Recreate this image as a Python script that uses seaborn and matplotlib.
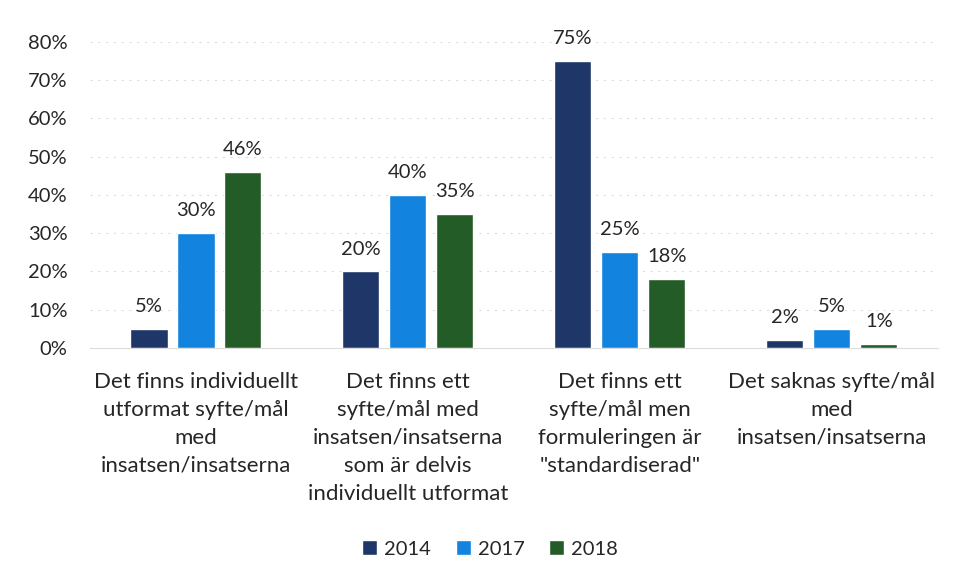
import pandas as pd
import matplotlib
matplotlib.use("Agg")
import matplotlib.pyplot as plt
import seaborn as sns
from matplotlib.ticker import PercentFormatter

categories = [
    "Det finns individuellt\nutformat syfte/mål\nmed\ninsatsen/insatserna",
    "Det finns ett\nsyfte/mål med\ninsatsen/insatserna\nsom är delvis\nindividuellt utformat",
    "Det finns ett\nsyfte/mål men\nformuleringen är\n\"standardiserad\"",
    "Det saknas syfte/mål\nmed\ninsatsen/insatserna",
]
years = ["2014", "2017", "2018"]
values_2014 = [5, 20, 75, 2]
values_2017 = [30, 40, 25, 5]
values_2018 = [46, 35, 18, 1]
colors = {"2014": "#1f3768", "2017": "#1283de", "2018": "#235c26"}

rows = []
for year, vals in zip(years, [values_2014, values_2017, values_2018]):
    for cat, v in zip(categories, vals):
        rows.append({"kategori": cat, "år": year, "andel": v})
df = pd.DataFrame(rows)

sns.set_style("white")
plt.rcParams["font.family"] = ["Lato", "DejaVu Sans"]
plt.rcParams["text.color"] = "#262626"

fig = plt.figure(figsize=(9.57, 5.81), dpi=100)
ax = fig.add_axes([0.094, 0.401, 0.886, 0.527])

sns.barplot(data=df, x="kategori", y="andel", hue="år", palette=colors,
            width=0.665, gap=0.21, ax=ax, legend=True, saturation=1)

for c in ax.containers:
    ax.bar_label(c, labels=[f"{v:.0f}%" for v in c.datavalues],
                 padding=10, fontsize=14.5, color="#262626")

ax.set_ylim(0, 80)
ax.set_yticks(range(0, 81, 10))
ax.yaxis.set_major_formatter(PercentFormatter(decimals=0))
ax.set_xlim(-0.5, 3.5)
ax.grid(axis="y", color="#dcdcdc", linestyle=(0, (2, 5)), linewidth=0.8)
ax.set_axisbelow(True)
for s in ["top", "right", "left"]:
    ax.spines[s].set_visible(False)
ax.spines["bottom"].set_color("#dcdcdc")
ax.spines["bottom"].set_linewidth(0.8)

ax.set_xlabel("")
ax.set_ylabel("")
ax.tick_params(axis="y", labelsize=14.5, pad=16, length=0, labelcolor="#262626")
ax.tick_params(axis="x", labelsize=16, pad=17, length=0, labelcolor="#262626")
for t in ax.get_xticklabels():
    t.set_linespacing(1.5)
    t.set_verticalalignment("top")

handles, labels = ax.get_legend_handles_labels()
ax.get_legend().remove()
fig.legend(handles, labels, loc="center", bbox_to_anchor=(0.512, 0.055), ncol=3,
           frameon=False, fontsize=14.5, handlelength=0.75, handleheight=0.75,
           handletextpad=0.35, columnspacing=1.2)

fig.savefig("out.png", dpi=100)
